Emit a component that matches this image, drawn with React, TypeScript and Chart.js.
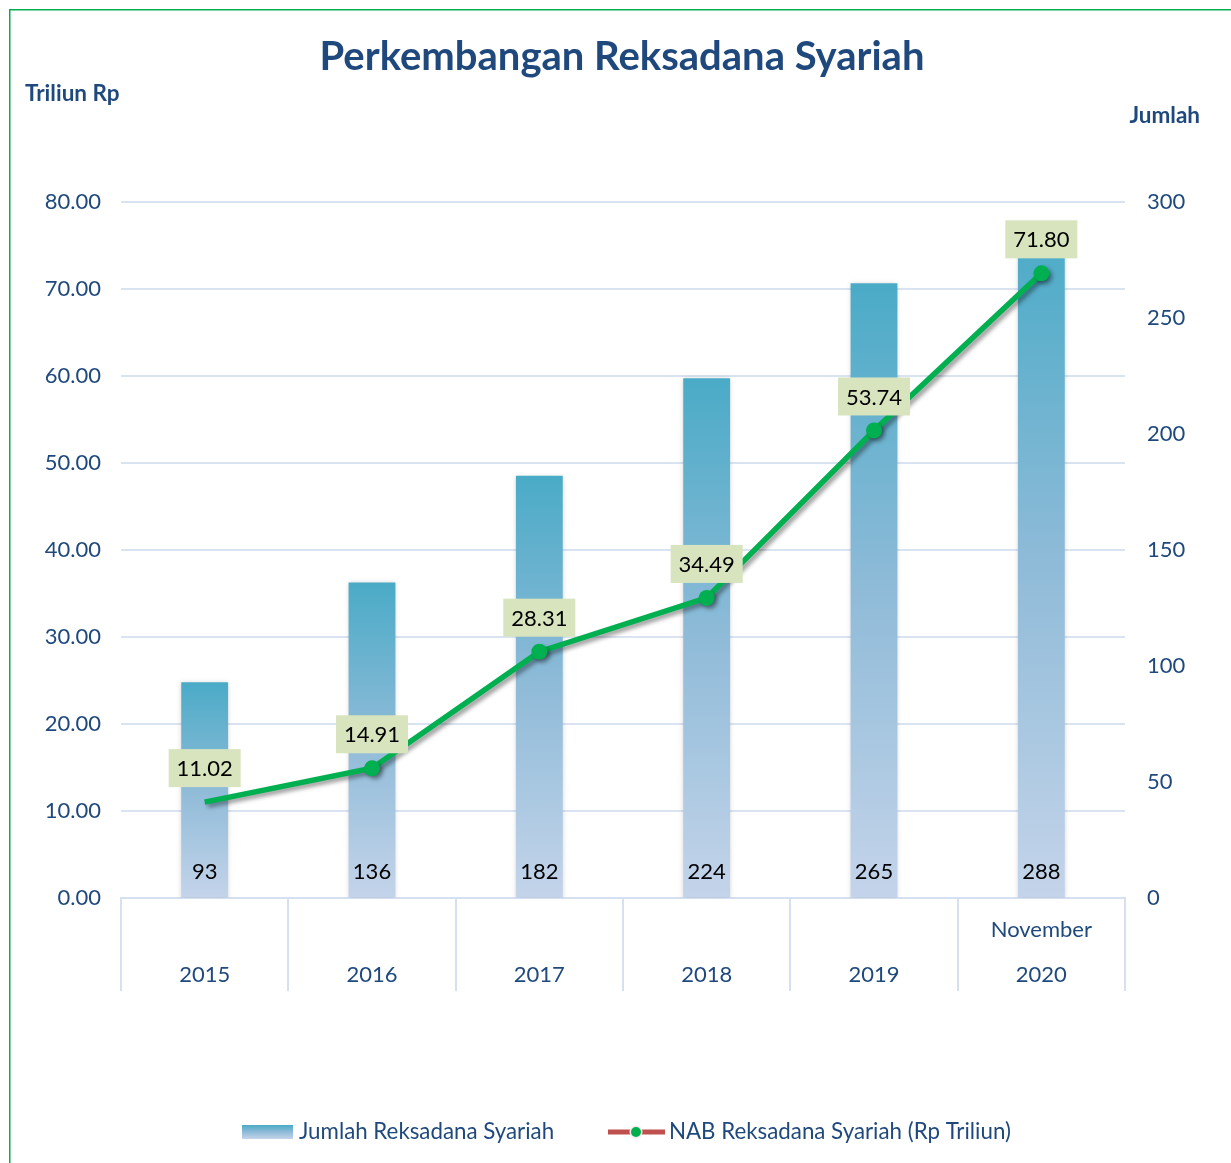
import React, { useEffect, useRef } from 'react';
import { Chart, registerables } from 'chart.js';

Chart.register(...registerables);

const categories: string[][] = [
  ['', '2015'],
  ['', '2016'],
  ['', '2017'],
  ['', '2018'],
  ['', '2019'],
  ['November', '2020'],
];
const jumlahReksadana = [93, 136, 182, 224, 265, 288];
const nabTriliun = [11.02, 14.91, 28.31, 34.49, 53.74, 71.8];
const leftAxis = { min: 0, max: 80, step: 10 };
const rightAxis = { min: 0, max: 300, step: 50 };

const TITLE = 'Perkembangan Reksadana Syariah';
const LEFT_TITLE = 'Triliun Rp';
const RIGHT_TITLE = 'Jumlah';
const LEGEND_BAR = 'Jumlah Reksadana Syariah';
const LEGEND_LINE = 'NAB Reksadana Syariah (Rp Triliun)';

const FONT = 'Lato';
const NAVY = '#1f497d';
const GREEN = '#00b050';

function barGradient(ctx: CanvasRenderingContext2D, top: number, bottom: number) {
  const g = ctx.createLinearGradient(0, top, 0, bottom);
  g.addColorStop(0, '#4aabc7');
  g.addColorStop(0.5, '#8fbbd8');
  g.addColorStop(1, '#c4d4ea');
  return g;
}

const decorPlugin = {
  id: 'decor',
  beforeDraw(chart: any) {
    const ctx = chart.ctx;
    ctx.save();
    ctx.fillStyle = '#ffffff';
    ctx.fillRect(0, 0, chart.width, chart.height);
    ctx.strokeStyle = GREEN;
    ctx.lineWidth = 1.5;
    ctx.strokeRect(9.75, 9.75, chart.width + 50, chart.height + 50);
    ctx.fillStyle = NAVY;
    ctx.textBaseline = 'middle';
    ctx.textAlign = 'center';
    ctx.font = `bold 40px ${FONT}`;
    ctx.fillText(TITLE, 622, 57);
    ctx.font = `bold 22.5px ${FONT}`;
    ctx.textAlign = 'left';
    ctx.fillText(LEFT_TITLE, 25, 94);
    ctx.textAlign = 'right';
    ctx.fillText(RIGHT_TITLE, 1200, 116);
    ctx.restore();
  },
  beforeDatasetDraw(chart: any, args: any) {
    const ctx = chart.ctx;
    ctx.save();
    if (args.meta.type === 'line') {
      ctx.shadowColor = 'rgba(0,0,0,0.4)';
      ctx.shadowBlur = 4;
      ctx.shadowOffsetX = 3;
      ctx.shadowOffsetY = 3;
    } else {
      ctx.shadowColor = 'rgba(0,0,0,0.2)';
      ctx.shadowBlur = 5;
      ctx.shadowOffsetX = 0;
      ctx.shadowOffsetY = 1;
    }
  },
  afterDatasetDraw(chart: any) {
    chart.ctx.restore();
  },
  afterDatasetsDraw(chart: any) {
    const ctx = chart.ctx;
    ctx.save();
    ctx.font = `22px ${FONT}`;
    ctx.textAlign = 'center';
    ctx.textBaseline = 'middle';
    const barMeta = chart.getDatasetMeta(0);
    const bottom = chart.chartArea.bottom;
    barMeta.data.forEach((el: any, i: number) => {
      ctx.fillStyle = '#000000';
      ctx.fillText(String(jumlahReksadana[i]), el.x, bottom - 26);
    });
    const lineMeta = chart.getDatasetMeta(1);
    lineMeta.data.forEach((el: any, i: number) => {
      const txt = nabTriliun[i].toFixed(2);
      const cy = el.y - 34;
      ctx.fillStyle = '#d7e4bd';
      ctx.fillRect(el.x - 36, cy - 19, 72, 38);
      ctx.fillStyle = '#000000';
      ctx.fillText(txt, el.x, cy + 1);
    });
    const ly = 1132;
    ctx.fillStyle = barGradient(ctx, ly - 7, ly + 7);
    ctx.fillRect(242, ly - 7, 51, 14);
    ctx.font = `22.3px ${FONT}`;
    ctx.textAlign = 'left';
    ctx.fillStyle = NAVY;
    ctx.fillText(LEGEND_BAR, 299, ly);
    ctx.strokeStyle = '#c0504d';
    ctx.lineWidth = 5;
    ctx.beginPath();
    ctx.moveTo(608, ly);
    ctx.lineTo(665, ly);
    ctx.stroke();
    ctx.beginPath();
    ctx.arc(636, ly, 6.5, 0, Math.PI * 2);
    ctx.fillStyle = '#eeeeee';
    ctx.fill();
    ctx.beginPath();
    ctx.arc(636, ly, 5, 0, Math.PI * 2);
    ctx.fillStyle = GREEN;
    ctx.fill();
    ctx.fillStyle = NAVY;
    ctx.fillText(LEGEND_LINE, 669, ly);
    ctx.restore();
  },
};

export default function App() {
  const ref = useRef<HTMLCanvasElement | null>(null);
  useEffect(() => {
    if (!ref.current) return;
    const chart = new Chart(ref.current, {
      type: 'bar',
      data: {
        labels: categories,
        datasets: [
          {
            type: 'bar',
            label: LEGEND_BAR,
            data: jumlahReksadana,
            yAxisID: 'y1',
            order: 2,
            categoryPercentage: 1,
            barPercentage: 0.28,
            backgroundColor: (c: any) => {
              const ch = c.chart;
              const s = ch.scales && ch.scales.y1;
              if (!s || !ch.chartArea || c.raw == null) return '#4aabc7';
              const top = s.getPixelForValue(c.raw);
              const bot = s.getPixelForValue(0);
              return barGradient(ch.ctx, top, bot);
            },
            borderWidth: 0,
          },
          {
            type: 'line',
            label: LEGEND_LINE,
            data: nabTriliun,
            yAxisID: 'y',
            order: 1,
            borderColor: GREEN,
            borderWidth: 5.5,
            backgroundColor: GREEN,
            pointBackgroundColor: GREEN,
            pointBorderColor: GREEN,
            pointRadius: (c: any) => (c.dataIndex === 0 ? 0 : 8),
            pointBorderWidth: 0,
            tension: 0,
            fill: false,
          },
        ],
      },
      options: {
        responsive: false,
        animation: false,
        layout: { padding: { top: 202, left: 0, right: 0, bottom: 0 } },
        plugins: {
          legend: { display: false },
          title: { display: false },
          tooltip: { enabled: false },
        },
        scales: {
          x: {
            offset: true,
            grid: {
              offset: true,
              drawOnChartArea: false,
              drawTicks: true,
              tickLength: 93,
              color: '#d5e1f1',
              lineWidth: 2,
            },
            border: { display: true, color: '#d5e1f1', width: 2 },
            ticks: {
              color: NAVY,
              font: { family: FONT, size: 22, lineHeight: '45px' },
              padding: -83.5,
              maxRotation: 0,
              autoSkip: false,
            },
            afterFit: (s: any) => {
              s.height = 265;
            },
          },
          y: {
            position: 'left',
            min: leftAxis.min,
            max: leftAxis.max,
            ticks: {
              stepSize: leftAxis.step,
              color: NAVY,
              font: { family: FONT, size: 22 },
              padding: 20,
              callback: (v: any) => Number(v).toFixed(2),
            },
            grid: { color: '#d9e3f2', lineWidth: 2, drawTicks: false },
            border: { display: false },
            afterFit: (s: any) => {
              s.width = 121;
            },
          },
          y1: {
            position: 'right',
            min: rightAxis.min,
            max: rightAxis.max,
            ticks: {
              stepSize: rightAxis.step,
              color: NAVY,
              font: { family: FONT, size: 22 },
              padding: 22,
            },
            grid: { drawOnChartArea: false, drawTicks: false },
            border: { display: false },
            afterFit: (s: any) => {
              s.width = 106;
            },
          },
        },
      },
      plugins: [decorPlugin],
    } as any);
    return () => chart.destroy();
  }, []);
  return (
    <div style={{ position: 'absolute', left: 0, top: 0, width: 1231, height: 1163 }}>
      <canvas ref={ref} width={1231} height={1163} style={{ display: 'block' }} />
    </div>
  );
}
